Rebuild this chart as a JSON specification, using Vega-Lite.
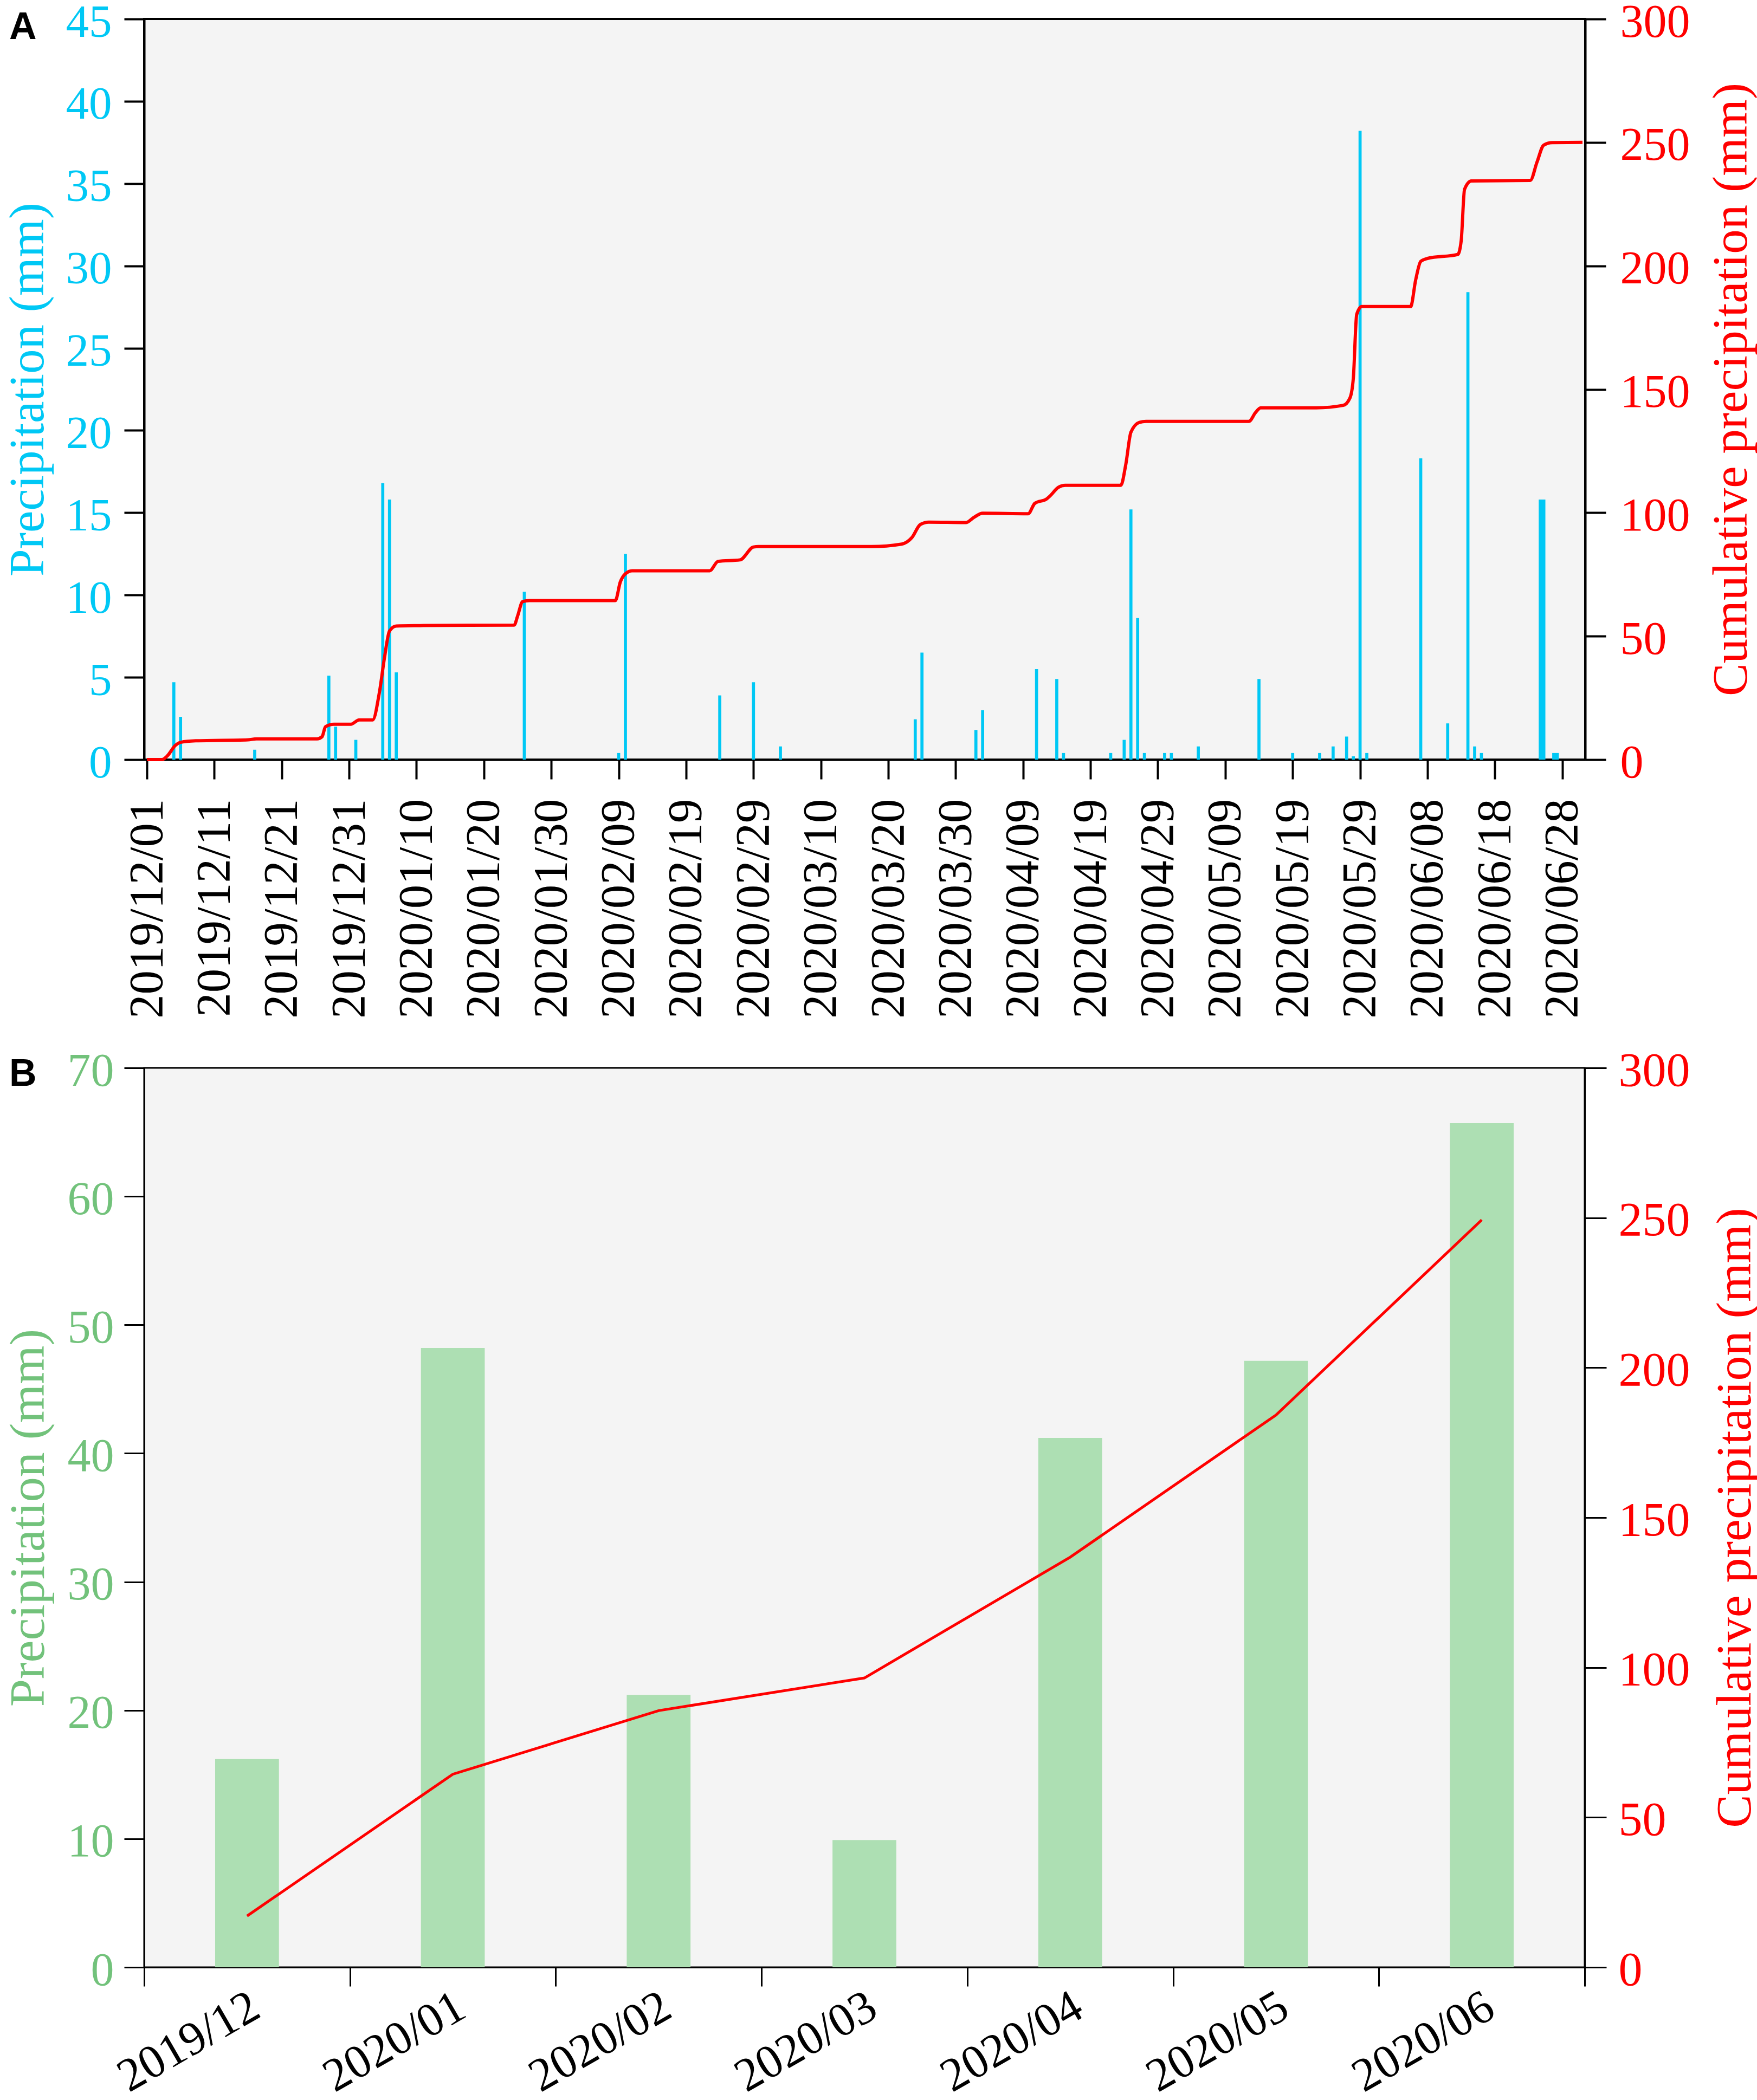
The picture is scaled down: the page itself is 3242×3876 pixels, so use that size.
{
  "$schema": "https://vega.github.io/schema/vega-lite/v6.json",
  "background": "white",
  "padding": {"left": 4, "top": -4, "right": 0, "bottom": 0},
  "spacing": 569,
  "bounds": "flush",
  "config": {
    "font": "Liberation Serif",
    "axis": {
      "grid": false,
      "domainColor": "black",
      "tickColor": "black",
      "labelFont": "Liberation Serif",
      "titleFont": "Liberation Serif",
      "titleFontWeight": "normal",
      "labelFlush": false,
      "labelOverlap": false,
      "labelLimit": 0
    }
  },
  "datasets": {
    "daily": [
      {"date": "2019-12-05", "precip": 4.7},
      {"date": "2019-12-06", "precip": 2.6},
      {"date": "2019-12-17", "precip": 0.6},
      {"date": "2019-12-28", "precip": 5.1},
      {"date": "2019-12-29", "precip": 2.0},
      {"date": "2020-01-01", "precip": 1.2},
      {"date": "2020-01-05", "precip": 16.8},
      {"date": "2020-01-06", "precip": 15.8},
      {"date": "2020-01-07", "precip": 5.3},
      {"date": "2020-01-26", "precip": 10.2},
      {"date": "2020-02-09", "precip": 0.4},
      {"date": "2020-02-10", "precip": 12.5},
      {"date": "2020-02-24", "precip": 3.9},
      {"date": "2020-02-29", "precip": 4.7},
      {"date": "2020-03-04", "precip": 0.8},
      {"date": "2020-03-24", "precip": 2.45},
      {"date": "2020-03-25", "precip": 6.5},
      {"date": "2020-04-02", "precip": 1.8},
      {"date": "2020-04-03", "precip": 3.0},
      {"date": "2020-04-11", "precip": 5.5},
      {"date": "2020-04-14", "precip": 4.9},
      {"date": "2020-04-15", "precip": 0.4},
      {"date": "2020-04-22", "precip": 0.4},
      {"date": "2020-04-24", "precip": 1.2},
      {"date": "2020-04-25", "precip": 15.2},
      {"date": "2020-04-26", "precip": 8.6},
      {"date": "2020-04-27", "precip": 0.4},
      {"date": "2020-04-30", "precip": 0.4},
      {"date": "2020-05-01", "precip": 0.4},
      {"date": "2020-05-05", "precip": 0.8},
      {"date": "2020-05-14", "precip": 4.9},
      {"date": "2020-05-19", "precip": 0.4},
      {"date": "2020-05-23", "precip": 0.4},
      {"date": "2020-05-25", "precip": 0.8},
      {"date": "2020-05-27", "precip": 1.4},
      {"date": "2020-05-28", "precip": 0.2},
      {"date": "2020-05-29", "precip": 38.2},
      {"date": "2020-05-30", "precip": 0.4},
      {"date": "2020-06-07", "precip": 18.3},
      {"date": "2020-06-11", "precip": 2.2},
      {"date": "2020-06-14", "precip": 28.4},
      {"date": "2020-06-15", "precip": 0.8},
      {"date": "2020-06-16", "precip": 0.4},
      {"date": "2020-06-25", "precip": 15.8},
      {"date": "2020-06-27", "precip": 0.4}
    ],
    "cumulative": [
      {"time": "2019-12-01T00:00:00Z", "cum": 0},
      {"time": "2019-12-03T06:00:00Z", "cum": 0},
      {"time": "2019-12-04T00:00:00Z", "cum": 1.4},
      {"time": "2019-12-05T06:00:00Z", "cum": 5.8},
      {"time": "2019-12-06T00:00:00Z", "cum": 7.0},
      {"time": "2019-12-08T06:00:00Z", "cum": 7.6},
      {"time": "2019-12-16T00:00:00Z", "cum": 8.0},
      {"time": "2019-12-17T06:00:00Z", "cum": 8.4},
      {"time": "2019-12-26T06:00:00Z", "cum": 8.4},
      {"time": "2019-12-27T00:00:00Z", "cum": 9.3},
      {"time": "2019-12-27T12:00:00Z", "cum": 13.3},
      {"time": "2019-12-28T18:00:00Z", "cum": 14.3},
      {"time": "2019-12-31T06:00:00Z", "cum": 14.3},
      {"time": "2020-01-01T12:00:00Z", "cum": 16.1},
      {"time": "2020-01-03T12:00:00Z", "cum": 16.1},
      {"time": "2020-01-04T12:00:00Z", "cum": 27.2},
      {"time": "2020-01-05T06:00:00Z", "cum": 41.2},
      {"time": "2020-01-06T00:00:00Z", "cum": 52.1},
      {"time": "2020-01-07T00:00:00Z", "cum": 54.1},
      {"time": "2020-01-11T00:00:00Z", "cum": 54.3},
      {"time": "2020-01-24T12:00:00Z", "cum": 54.5},
      {"time": "2020-01-25T00:00:00Z", "cum": 58.1},
      {"time": "2020-01-25T18:00:00Z", "cum": 64.0},
      {"time": "2020-01-26T18:00:00Z", "cum": 64.4},
      {"time": "2020-02-08T12:00:00Z", "cum": 64.4},
      {"time": "2020-02-09T06:00:00Z", "cum": 72.0},
      {"time": "2020-02-10T00:00:00Z", "cum": 75.3},
      {"time": "2020-02-11T00:00:00Z", "cum": 76.5},
      {"time": "2020-02-22T12:00:00Z", "cum": 76.5},
      {"time": "2020-02-23T18:00:00Z", "cum": 80.3},
      {"time": "2020-02-27T00:00:00Z", "cum": 80.9},
      {"time": "2020-02-29T00:00:00Z", "cum": 86.1},
      {"time": "2020-02-29T18:00:00Z", "cum": 86.3},
      {"time": "2020-03-17T12:00:00Z", "cum": 86.3},
      {"time": "2020-03-22T00:00:00Z", "cum": 87.3},
      {"time": "2020-03-23T12:00:00Z", "cum": 89.9},
      {"time": "2020-03-24T18:00:00Z", "cum": 95.2},
      {"time": "2020-03-26T00:00:00Z", "cum": 96.2},
      {"time": "2020-03-31T12:00:00Z", "cum": 96.0},
      {"time": "2020-04-01T18:00:00Z", "cum": 98.2},
      {"time": "2020-04-03T00:00:00Z", "cum": 99.8},
      {"time": "2020-04-09T18:00:00Z", "cum": 99.6},
      {"time": "2020-04-10T18:00:00Z", "cum": 103.8},
      {"time": "2020-04-12T12:00:00Z", "cum": 105.6},
      {"time": "2020-04-13T00:00:00Z", "cum": 106.8},
      {"time": "2020-04-14T06:00:00Z", "cum": 110.3},
      {"time": "2020-04-15T06:00:00Z", "cum": 111.1},
      {"time": "2020-04-23T12:00:00Z", "cum": 111.1},
      {"time": "2020-04-24T06:00:00Z", "cum": 119.7},
      {"time": "2020-04-25T00:00:00Z", "cum": 132.6},
      {"time": "2020-04-26T06:00:00Z", "cum": 136.6},
      {"time": "2020-04-27T06:00:00Z", "cum": 137.0},
      {"time": "2020-05-12T12:00:00Z", "cum": 137.0},
      {"time": "2020-05-13T12:00:00Z", "cum": 140.6},
      {"time": "2020-05-14T06:00:00Z", "cum": 142.5},
      {"time": "2020-05-22T12:00:00Z", "cum": 142.5},
      {"time": "2020-05-26T12:00:00Z", "cum": 143.5},
      {"time": "2020-05-27T12:00:00Z", "cum": 146.5},
      {"time": "2020-05-28T00:00:00Z", "cum": 154.5},
      {"time": "2020-05-28T12:00:00Z", "cum": 180.3},
      {"time": "2020-05-29T06:00:00Z", "cum": 183.5},
      {"time": "2020-06-05T12:00:00Z", "cum": 183.5},
      {"time": "2020-06-06T06:00:00Z", "cum": 194.3},
      {"time": "2020-06-07T00:00:00Z", "cum": 201.8},
      {"time": "2020-06-08T00:00:00Z", "cum": 203.0},
      {"time": "2020-06-12T12:00:00Z", "cum": 204.6},
      {"time": "2020-06-13T00:00:00Z", "cum": 210.1},
      {"time": "2020-06-13T12:00:00Z", "cum": 231.0},
      {"time": "2020-06-14T12:00:00Z", "cum": 234.4},
      {"time": "2020-06-23T06:00:00Z", "cum": 234.6},
      {"time": "2020-06-24T06:00:00Z", "cum": 242.0},
      {"time": "2020-06-25T06:00:00Z", "cum": 248.9},
      {"time": "2020-06-26T12:00:00Z", "cum": 249.9},
      {"time": "2020-07-01T00:00:00Z", "cum": 250.0}
    ],
    "monthly": [
      {"month": "2019/12", "precip": 16.2, "cum": 17.1},
      {"month": "2020/01", "precip": 48.2, "cum": 64.4},
      {"month": "2020/02", "precip": 21.2, "cum": 85.6},
      {"month": "2020/03", "precip": 9.9, "cum": 96.5},
      {"month": "2020/04", "precip": 41.2, "cum": 136.8},
      {"month": "2020/05", "precip": 47.2, "cum": 184.2},
      {"month": "2020/06", "precip": 65.7, "cum": 249.3}
    ],
    "panels": [
      {"panel": "A", "value": 43.78},
      {"panel": "B", "value": -19.82}
    ]
  },
  "vconcat": [
    {
      "width": 2659,
      "height": 1367,
      "view": {"stroke": "black", "strokeWidth": 4, "fill": "#f4f4f4"},
      "encoding": {
        "x": {
          "type": "temporal",
          "scale": {
            "type": "utc",
            "domain": [
              {"year": 2019, "month": 12, "date": 1, "utc": true},
              {"year": 2020, "month": 7, "date": 1, "utc": true}
            ]
          },
          "axis": {
            "title": null,
            "format": "%Y/%m/%d",
            "values": [
              {"year": 2019, "month": 12, "date": 1, "utc": true},
              {"year": 2019, "month": 12, "date": 11, "utc": true},
              {"year": 2019, "month": 12, "date": 21, "utc": true},
              {"year": 2019, "month": 12, "date": 31, "utc": true},
              {"year": 2020, "month": 1, "date": 10, "utc": true},
              {"year": 2020, "month": 1, "date": 20, "utc": true},
              {"year": 2020, "month": 1, "date": 30, "utc": true},
              {"year": 2020, "month": 2, "date": 9, "utc": true},
              {"year": 2020, "month": 2, "date": 19, "utc": true},
              {"year": 2020, "month": 2, "date": 29, "utc": true},
              {"year": 2020, "month": 3, "date": 10, "utc": true},
              {"year": 2020, "month": 3, "date": 20, "utc": true},
              {"year": 2020, "month": 3, "date": 30, "utc": true},
              {"year": 2020, "month": 4, "date": 9, "utc": true},
              {"year": 2020, "month": 4, "date": 19, "utc": true},
              {"year": 2020, "month": 4, "date": 29, "utc": true},
              {"year": 2020, "month": 5, "date": 9, "utc": true},
              {"year": 2020, "month": 5, "date": 19, "utc": true},
              {"year": 2020, "month": 5, "date": 29, "utc": true},
              {"year": 2020, "month": 6, "date": 8, "utc": true},
              {"year": 2020, "month": 6, "date": 18, "utc": true},
              {"year": 2020, "month": 6, "date": 28, "utc": true}
            ],
            "labelAngle": 270,
            "labelFontSize": 89,
            "labelColor": "black",
            "labelPadding": 36,
            "tickSize": 36,
            "tickWidth": 4,
            "domainWidth": 4
          }
        }
      },
      "layer": [
        {
          "encoding": {
            "y": {
              "field": "precip",
              "type": "quantitative",
              "scale": {"domain": [0, 45], "nice": false},
              "axis": {
                "title": "Precipitation (mm)",
                "values": [0, 5, 10, 15, 20, 25, 30, 35, 40, 45],
                "labelFontSize": 85,
                "labelColor": "#00c8f5",
                "labelOffset": 6,
                "titleColor": "#00c8f5",
                "titleFontSize": 91,
                "tickSize": 37,
                "tickWidth": 4,
                "domainWidth": 4,
                "labelPadding": 23,
                "minExtent": 145,
                "maxExtent": 145,
                "titlePadding": 23
              }
            }
          },
          "layer": [
            {
              "data": {"name": "daily"},
              "transform": [{"filter": "time(datum.date) < utc(2020, 5, 20)"}],
              "mark": {"type": "bar", "width": 5.7, "color": "#00c8f5"},
              "encoding": {"x": {"field": "date", "type": "temporal"}}
            },
            {
              "data": {"name": "daily"},
              "transform": [{"filter": "time(datum.date) >= utc(2020, 5, 20)"}],
              "mark": {"type": "bar", "width": 12.3, "color": "#00c8f5"},
              "encoding": {"x": {"field": "date", "type": "temporal"}}
            },
            {
              "data": {"name": "panels"},
              "mark": {
                "type": "text",
                "font": "Liberation Sans",
                "fontWeight": "bold",
                "fontSize": 70,
                "align": "left",
                "baseline": "alphabetic",
                "color": "black"
              },
              "encoding": {
                "x": {"datum": {"year": 2019, "month": 11, "date": 10, "hours": 14, "utc": true}, "type": "temporal"},
                "y": {"field": "value", "type": "quantitative"},
                "text": {"field": "panel", "type": "nominal"}
              }
            }
          ]
        },
        {
          "data": {"name": "cumulative"},
          "mark": {"type": "line", "color": "#ff0000", "strokeWidth": 6, "interpolate": "monotone"},
          "encoding": {
            "x": {"field": "time", "type": "temporal"},
            "y": {
              "field": "cum",
              "type": "quantitative",
              "scale": {"domain": [0, 300], "nice": false},
              "axis": {
                "orient": "right",
                "title": "Cumulative precipitation (mm)",
                "titleAngle": 270,
                "titleBaseline": "top",
                "values": [0, 50, 100, 150, 200, 250, 300],
                "labelFontSize": 86,
                "labelColor": "#ff0000",
                "labelOffset": 6,
                "titleColor": "#ff0000",
                "titleFontSize": 91,
                "tickSize": 38,
                "tickWidth": 4,
                "domainWidth": 4,
                "labelPadding": 26,
                "minExtent": 194,
                "maxExtent": 194,
                "titlePadding": 31
              }
            }
          }
        }
      ],
      "resolve": {"scale": {"y": "independent"}}
    },
    {
      "width": 2658,
      "height": 1660,
      "data": {"name": "monthly"},
      "view": {"stroke": "black", "strokeWidth": 3, "fill": "#f4f4f4"},
      "encoding": {
        "x": {
          "field": "month",
          "type": "nominal",
          "sort": null,
          "scale": {"paddingInner": 0, "paddingOuter": 0},
          "axis": {
            "title": null,
            "labelAngle": -30,
            "labelFontSize": 87,
            "labelColor": "black",
            "labelPadding": -6,
            "labelOffset": -6,
            "tickBand": "extent",
            "tickSize": 35,
            "tickWidth": 3,
            "domainWidth": 3
          }
        }
      },
      "layer": [
        {
          "mark": {"type": "bar", "width": {"band": 0.31}, "color": "#addfb3"},
          "encoding": {
            "y": {
              "field": "precip",
              "type": "quantitative",
              "scale": {"domain": [0, 70], "nice": false},
              "axis": {
                "title": "Precipitation (mm)",
                "values": [0, 10, 20, 30, 40, 50, 60, 70],
                "labelFontSize": 86,
                "labelColor": "#72c27b",
                "labelOffset": 6,
                "titleColor": "#72c27b",
                "titleFontSize": 92,
                "tickSize": 37,
                "tickWidth": 3,
                "domainWidth": 3,
                "labelPadding": 19,
                "minExtent": 144,
                "maxExtent": 144,
                "titlePadding": 23
              }
            }
          }
        },
        {
          "mark": {"type": "line", "color": "#ff0000", "strokeWidth": 5},
          "encoding": {
            "y": {
              "field": "cum",
              "type": "quantitative",
              "scale": {"domain": [0, 300], "nice": false},
              "axis": {
                "orient": "right",
                "title": "Cumulative precipitation (mm)",
                "titleAngle": 270,
                "titleBaseline": "top",
                "values": [0, 50, 100, 150, 200, 250, 300],
                "labelFontSize": 88,
                "labelColor": "#ff0000",
                "labelOffset": 6,
                "titleColor": "#ff0000",
                "titleFontSize": 92,
                "tickSize": 40,
                "tickWidth": 3,
                "domainWidth": 3,
                "labelPadding": 22,
                "minExtent": 203,
                "maxExtent": 203,
                "titlePadding": 29
              }
            }
          }
        }
      ],
      "resolve": {"scale": {"y": "independent"}}
    }
  ]
}
